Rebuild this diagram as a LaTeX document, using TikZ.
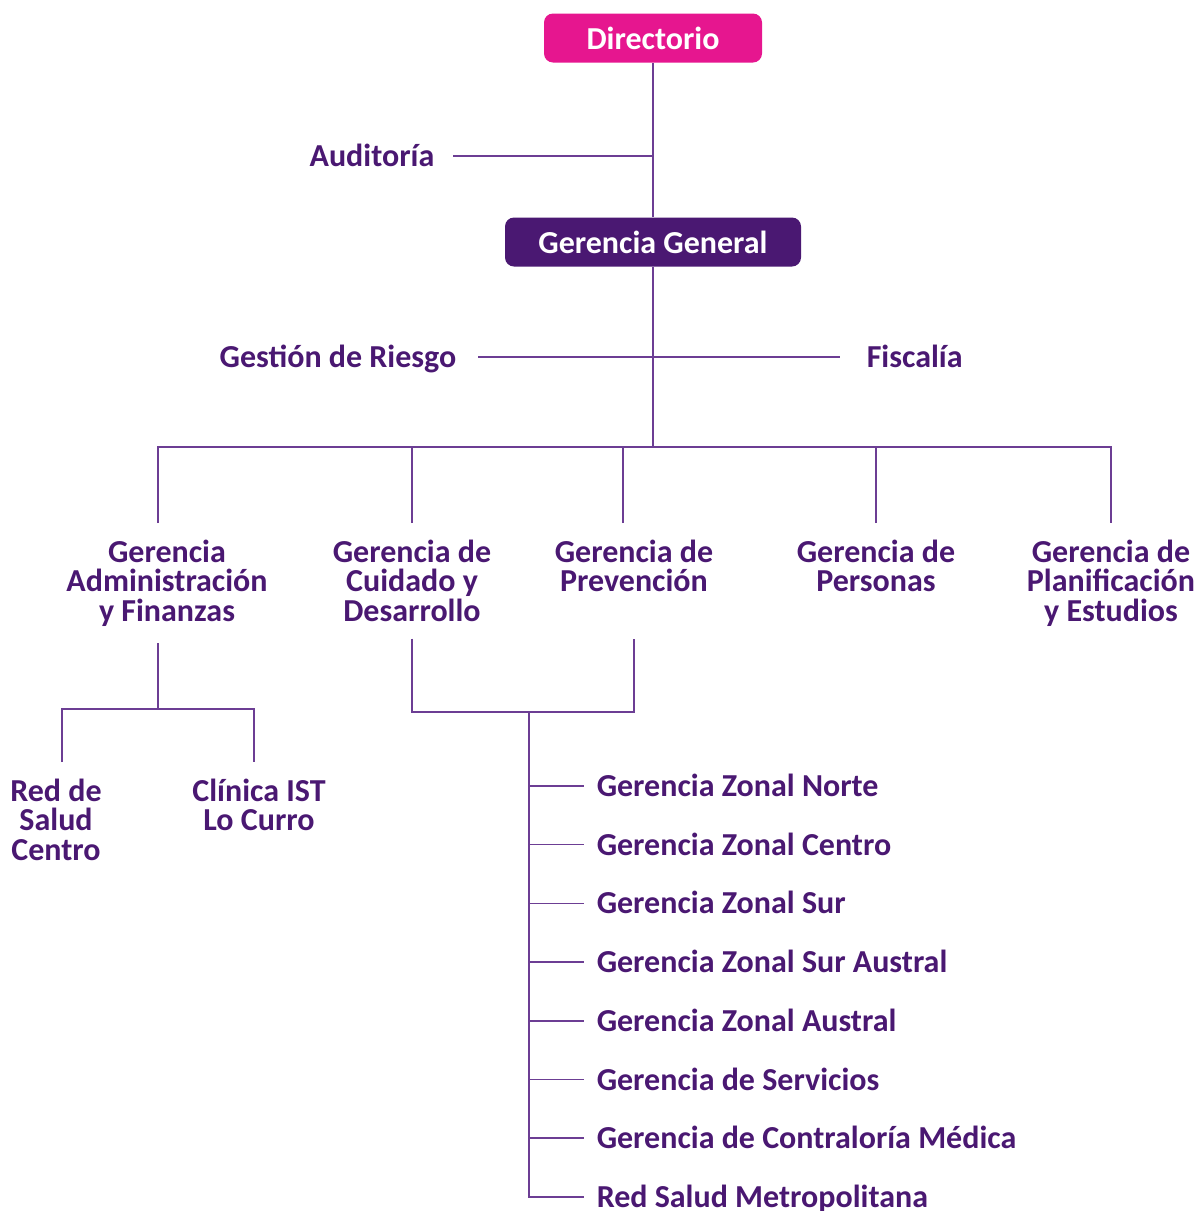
\documentclass[tikz,border=0pt]{standalone}
\usepackage{fontspec}
\setmainfont{Carlito}
\usetikzlibrary{positioning}

\definecolor{ink}{RGB}{74,24,114}
\definecolor{wire}{RGB}{108,62,148}
\definecolor{pinkbox}{RGB}{230,22,143}

\begin{document}
\begin{tikzpicture}[x=1pt,y=-1pt,line width=1.5pt,
                    font=\fontsize{32}{29.5}\selectfont\bfseries]

  \tikzstyle{head}=[rectangle,rounded corners=9pt,text=white,minimum width=218pt,
                    minimum height=49pt,inner sep=0pt]
  \tikzstyle{unit}=[text=ink,align=center,inner sep=0pt,outer ysep=17pt,anchor=north]
  \tikzstyle{staff}=[text=ink,inner sep=0pt,text height=21pt,text depth=0pt]
  \tikzstyle{zone}=[text=ink,inner sep=0pt,text height=21pt,text depth=0pt,anchor=west]
  \tikzstyle{link}=[draw=wire]

  \useasboundingbox (0,0) rectangle (1198,1211);

  % top of the chart
  \node[head,fill=pinkbox]                      (dir)    at (653,38)  {Directorio};
  \node[head,fill=ink,minimum width=296pt]      (gg)     at (653,242) {Gerencia General};
  \node[staff,anchor=east]                      (aud)    at (435,156) {Auditoría};
  \node[staff,anchor=east]                      (riesgo) at (457,357) {Gestión de Riesgo};
  \node[staff,anchor=west]                      (fisc)   at (866,357) {Fiscalía};

  % gerencias
  \node[unit] (gaf)  at (167,523)  {Gerencia\\Administración\\y Finanzas};
  \node[unit] (gcd)  at (412,523)  {Gerencia de\\Cuidado y\\Desarrollo};
  \node[unit] (gp)   at (634,523)  {Gerencia de\\Prevención};
  \node[unit] (gper) at (876,523)  {Gerencia de\\Personas};
  \node[unit] (gpe)  at (1111,523) {Gerencia de\\Planificación\\y Estudios};

  \node[unit] (rsc)  at (56,762)   {Red de\\Salud\\Centro};
  \node[unit] (ist)  at (259,762)  {Clínica IST\\Lo Curro};

  % zonas y servicios
  \node[zone] (zn) at (596,786) {Gerencia Zonal Norte};
  \node[zone,below=58.7pt of zn.west,anchor=west]  (zc)  {Gerencia Zonal Centro};
  \node[zone,below=58.7pt of zc.west,anchor=west]  (zs)  {Gerencia Zonal Sur};
  \node[zone,below=58.7pt of zs.west,anchor=west]  (zsa) {Gerencia Zonal Sur Austral};
  \node[zone,below=58.7pt of zsa.west,anchor=west] (za)  {Gerencia Zonal Austral};
  \node[zone,below=58.7pt of za.west,anchor=west]  (gs)  {Gerencia de Servicios};
  \node[zone,below=58.7pt of gs.west,anchor=west]  (gcm) {Gerencia de Contraloría Médica};
  \node[zone,below=58.7pt of gcm.west,anchor=west] (rsm) {Red Salud Metropolitana};

  \coordinate (bus)   at (653,447);
  \coordinate (afork) at (158,709);
  \coordinate (cfork) at (529,712);

  \draw[link] (dir) -- (gg);
  \draw[link] (gg) -- (bus);
  \draw[link,shorten <=18pt] (aud) -- (aud -| dir);
  \draw[link,shorten <=21pt,shorten >=26pt] (riesgo) -- (fisc);

  \draw[link] ([xshift=-9pt]gaf.north) |- (bus) -| (gpe.north);
  \draw[link] (gcd.north) -- (gcd.north |- bus);
  \draw[link] ([xshift=-11pt]gp.north) -- ([xshift=-11pt]gp.north |- bus);
  \draw[link] (gper.north) -- (gper.north |- bus);

  \draw[link] (afork |- gaf.south) -- (afork);
  \draw[link] ([xshift=6pt]rsc.north) |- (afork) -| ([xshift=-5pt]ist.north);

  \draw[link] (gcd.south) |- (cfork) -| (gcd.south -| gp);
  \draw[link,shorten >=12pt] (cfork) |- (rsm);
  \draw[link,shorten >=12pt] (cfork |- zn) -- (zn);
  \draw[link,shorten >=12pt] (cfork |- zc) -- (zc);
  \draw[link,shorten >=12pt] (cfork |- zs) -- (zs);
  \draw[link,shorten >=12pt] (cfork |- zsa) -- (zsa);
  \draw[link,shorten >=12pt] (cfork |- za) -- (za);
  \draw[link,shorten >=12pt] (cfork |- gs) -- (gs);
  \draw[link,shorten >=12pt] (cfork |- gcm) -- (gcm);
\end{tikzpicture}
\end{document}
